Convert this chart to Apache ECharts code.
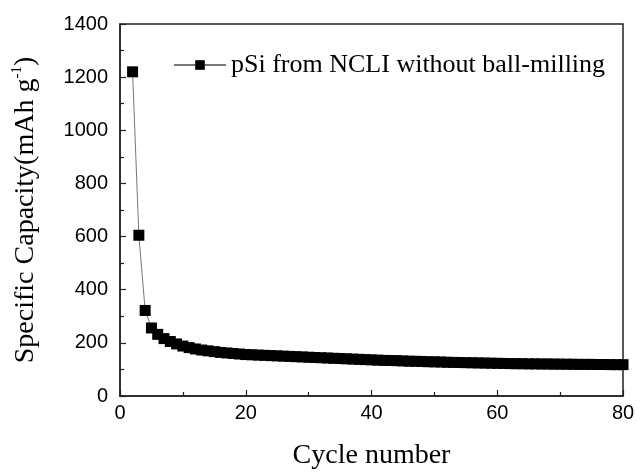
<!DOCTYPE html>
<html>
<head>
<meta charset="utf-8">
<script src="https://cdn.jsdelivr.net/npm/echarts@6/dist/echarts.min.js"></script>
<style>
  html, body { margin: 0; padding: 0; background: #fff; }
  #main { width: 641px; height: 475px; }
</style>
</head>
<body>
<div id="main"></div>
<script>
// cycle number vs specific capacity
var cycles = [2, 3, 4, 5, 6, 7, 8, 9, 10, 11, 12, 13, 14, 15, 16, 17, 18, 19, 20,
    21, 22, 23, 24, 25, 26, 27, 28, 29, 30, 31, 32, 33, 34, 35, 36, 37, 38, 39, 40,
    41, 42, 43, 44, 45, 46, 47, 48, 49, 50, 51, 52, 53, 54, 55, 56, 57, 58, 59, 60,
    61, 62, 63, 64, 65, 66, 67, 68, 69, 70, 71, 72, 73, 74, 75, 76, 77, 78, 79, 80];
var capacity = [1220, 605, 322, 256, 232, 216, 205, 196, 188, 182, 177, 173, 170, 167, 164, 162, 160, 158, 156,
    155, 154, 153, 152, 151, 150, 149, 148, 147, 146, 145, 144, 143, 142, 141, 140, 139, 138, 137, 136,
    135, 134, 133.5, 133, 132, 131, 130.5, 130, 129, 128.5, 128, 127, 126.5, 126, 125.5, 125, 124.5, 124, 123.5, 123,
    122.5, 122, 121.5, 121.5, 121, 121, 120.5, 120.5, 120, 120, 119.5, 119.5, 119, 119, 119, 118.5, 118.5, 118, 118, 118];
var seriesName = 'pSi from NCLI without ball-milling';

function draw() {
    var dom = document.getElementById('main');
    var myChart = echarts.init(dom, null, {renderer: 'canvas'});

    var points = [];
    for (var i = 0; i < cycles.length; i++) {
        points.push([cycles[i], capacity[i]]);
    }

    var option = {
        backgroundColor: '#fff',
        animation: false,
        grid: {
            left: 120,
            right: 18,
            top: 24,
            bottom: 77,
            show: true,
            borderColor: '#222',
            borderWidth: 1.5
        },
        legend: {
            left: 168,
            top: 47,
            itemWidth: 52,
            itemHeight: 12,
            itemGap: 4,
            textStyle: {
                fontFamily: 'Liberation Serif',
                fontSize: 26,
                color: '#000'
            },
            data: [seriesName]
        },
        xAxis: {
            type: 'value',
            min: 0,
            max: 80,
            interval: 20,
            name: 'Cycle number',
            nameLocation: 'middle',
            nameGap: 46,
            nameTextStyle: {
                fontFamily: 'Liberation Serif',
                fontSize: 28,
                color: '#000'
            },
            axisLine: {lineStyle: {color: '#222', width: 1.5}},
            axisTick: {inside: true, length: 6, lineStyle: {color: '#222', width: 1.2}},
            minorTick: {show: true, splitNumber: 2, length: 4, lineStyle: {color: '#222', width: 1.2}},
            axisLabel: {
                margin: 7,
                fontFamily: 'Liberation Sans',
                fontSize: 20,
                color: '#000',
                formatter: function (v) { return String(v); }
            },
            splitLine: {show: false}
        },
        yAxis: {
            type: 'value',
            min: 0,
            max: 1400,
            interval: 200,
            name: '{a|Specific Capacity(mAh g}{b|-1}{a|)}',
            nameLocation: 'middle',
            nameGap: 78,
            nameTextStyle: {
                rich: {
                    a: {
                        fontFamily: 'Liberation Serif',
                        fontSize: 28,
                        color: '#000',
                        lineHeight: 32
                    },
                    b: {
                        fontFamily: 'Liberation Serif',
                        fontSize: 15,
                        color: '#000',
                        verticalAlign: 'top',
                        lineHeight: 32
                    }
                }
            },
            axisLine: {lineStyle: {color: '#222', width: 1.5}},
            axisTick: {inside: true, length: 6, lineStyle: {color: '#222', width: 1.2}},
            minorTick: {show: true, splitNumber: 2, length: 4, lineStyle: {color: '#222', width: 1.2}},
            axisLabel: {
                margin: 12,
                fontFamily: 'Liberation Sans',
                fontSize: 20,
                color: '#000',
                formatter: function (v) { return String(v); }
            },
            splitLine: {show: false}
        },
        series: [
            {
                name: seriesName,
                type: 'line',
                data: points,
                symbol: 'rect',
                symbolSize: 11,
                itemStyle: {color: '#000'},
                lineStyle: {color: '#777', width: 1},
                clip: false
            }
        ]
    };
    myChart.setOption(option, true);
    window.onresize = myChart.resize;
}
draw();
</script>
</body>
</html>
